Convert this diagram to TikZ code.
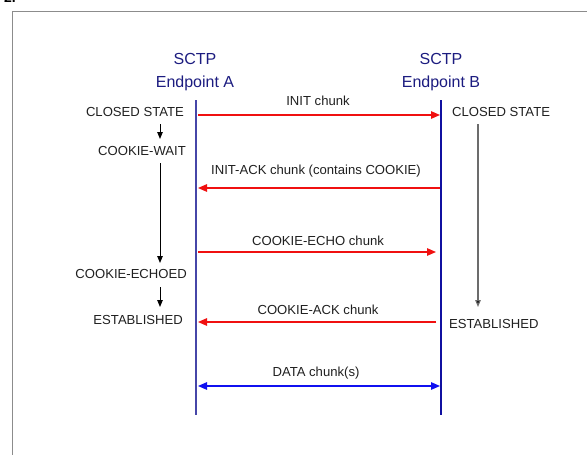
\documentclass[tikz,border=0pt]{standalone}
\usepackage{fontspec}
\setmainfont{Liberation Sans}
\usetikzlibrary{arrows.meta}
\definecolor{titleblue}{HTML}{1C1C80}
\definecolor{lineA}{HTML}{4646A8}
\definecolor{lineB}{HTML}{1010A0}
\definecolor{msgred}{HTML}{F01010}
\definecolor{datablue}{HTML}{1010F0}
\definecolor{framegray}{HTML}{8C8C8C}
\definecolor{statetxt}{HTML}{202020}
\begin{document}
\begin{tikzpicture}[x=1pt,y=-1pt,
  title/.style={text=titleblue,font=\fontsize{16}{22.5}\selectfont,align=center,inner sep=0pt},
  state/.style={text=statetxt,font=\fontsize{13.1}{15}\selectfont,inner sep=0pt},
  msglabel/.style={text=statetxt,font=\fontsize{13.1}{15}\selectfont,inner sep=0pt},
  lifeline/.style={line width=1.4pt},
  msg/.style={msgred,line width=1.3pt,-{Triangle[length=9pt,width=7.5pt]}},
  datamsg/.style={datablue,line width=1.3pt,{Triangle[length=9pt,width=7.5pt]}-{Triangle[length=9pt,width=7.5pt]}},
  trans/.style={black,line width=0.9pt,-{Triangle[length=7pt,width=5.5pt]}},
  longtrans/.style={line width=1.2pt,-{Triangle[length=7pt,width=5.5pt]}}]
\useasboundingbox (0,0) rectangle (587,455);
\clip (0,0) rectangle (587,455);
\fill[white] (0,0) rectangle (587,455);

% caption number cut by the page edge, and the frame
\node[font=\bfseries\fontsize{14}{16}\selectfont,anchor=base west,inner sep=0pt] (num) at (4,2) {2.};
\draw[framegray,line width=1.6pt] (12.5,455) -- (12.5,11.5) -- (587,11.5);

% endpoints
\node[title] (tA) at (195,72) {SCTP\\Endpoint A};
\node[title] (tB) at (441,72) {SCTP\\Endpoint B};

% lifelines
\coordinate (a0) at (196,100);
\coordinate (a1) at (196,415);
\coordinate (b0) at (441,100);
\coordinate (b1) at (441,415);
\draw[lifeline,lineA] (a0) -- (a1);
\draw[lifeline,lineB] (b0) -- (b1);

% endpoint A states
\node[state,anchor=east] (sA1) at (184,112) {CLOSED STATE};
\node[state,anchor=east] (sA2) at (186,151) {COOKIE-WAIT};
\node[state,anchor=east] (sA3) at (187,274) {COOKIE-ECHOED};
\node[state,anchor=east] (sA4) at (183,320) {ESTABLISHED};
\coordinate (t1a) at (160,124);
\coordinate (t1b) at (160,139);
\coordinate (t2a) at (160,163);
\coordinate (t2b) at (160,263);
\coordinate (t3a) at (160,287);
\coordinate (t3b) at (160,307);
\draw[trans] (t1a) -- (t1b);
\draw[trans] (t2a) -- (t2b);
\draw[trans] (t3a) -- (t3b);

% endpoint B states
\node[state,anchor=west] (sB1) at (452,112) {CLOSED STATE};
\node[state,anchor=west] (sB2) at (449,324) {ESTABLISHED};
\coordinate (u1a) at (478,124);
\coordinate (u1b) at (478,307);
\draw[longtrans,draw=gray!85!black,arrows={-{Triangle[length=7pt,width=5.5pt,fill=black]}}] (u1a) -- (u1b);

% messages
\coordinate (m1a) at (198,115);
\coordinate (m1b) at (440,115);
\coordinate (m2a) at (440,188);
\coordinate (m2b) at (198,188);
\coordinate (m3a) at (198,252);
\coordinate (m3b) at (436,252);
\coordinate (m4a) at (436,322);
\coordinate (m4b) at (198,322);
\coordinate (m5a) at (198,386);
\coordinate (m5b) at (440,386);
\draw[msg] (m1a) -- (m1b);
\draw[msg] (m2a) -- (m2b);
\draw[msg] (m3a) -- (m3b);
\draw[msg] (m4a) -- (m4b);
\draw[datamsg] (m5a) -- (m5b);

\node[msglabel] (l1) at (318,101) {INIT chunk};
\node[msglabel] (l2) at (316,171) {INIT-ACK chunk (contains COOKIE)};
\node[msglabel] (l3) at (318,241) {COOKIE-ECHO chunk};
\node[msglabel] (l4) at (318,310) {COOKIE-ACK chunk};
\node[msglabel] (l5) at (316,373) {DATA chunk(s)};
\end{tikzpicture}
\end{document}
